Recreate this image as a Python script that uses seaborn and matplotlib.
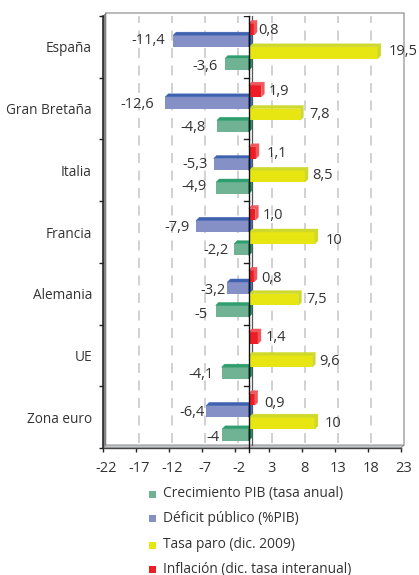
import numpy as np
import pandas as pd
import matplotlib
import matplotlib.pyplot as plt
from matplotlib.patches import Polygon, Rectangle
from matplotlib.transforms import ScaledTranslation
import seaborn as sns

matplotlib.use("Agg")

paises = ["España", "Gran Bretaña", "Italia", "Francia", "Alemania", "UE", "Zona euro"]
inflacion = [0.8, 1.9, 1.1, 1.0, 0.8, 1.4, 0.9]
deficit = [-11.4, -12.6, -5.3, -7.9, -3.2, np.nan, -6.4]
paro = [19.5, 7.8, 8.5, 10, 7.5, 9.6, 10]
crecimiento = [-3.6, -4.8, -4.9, -2.2, -5, -4.1, -4]
x_ticks = list(range(-22, 24, 5))

series = ["Inflación (dic. tasa interanual)", "Déficit público (%PIB)",
          "Tasa paro (dic. 2009)", "Crecimiento PIB (tasa anual)"]
valores = [inflacion, deficit, paro, crecimiento]
legend_order = [3, 1, 2, 0]

face = ["#ee1c25", "#8490c6", "#e8e612", "#6fb394"]
top = ["#f0575c", "#3f62b0", "#ced92b", "#2f9e6f"]
side = ["#f0575c", "#2c55a8", "#ced92b", "#0b7d55"]

# label placement in the original is uneven: gap from the bar end and shift from bar centre, px
label_gap = [[1, 4, 7.7, 4, 4.7, 4.7, 7],
             [8, 11, 6, 6.4, 1.5, 0, 2],
             [8, 6, 4.7, 8, 4.6, 4, 6.3],
             [7, 11, 10, 5, 7.6, 7.5, 3]]
label_shift = [[0, 0, 0, 0, 1, -1, 2.5],
               [-1, 1, -1, 0, 2, 0, 0],
               [-2, -1, -2, 2, -1, -1, -1],
               [1.5, 0, -2, 0, 2, 0, 2]]

W, H = 419, 575
plt.rcParams["font.family"] = ["Open Sans", "DejaVu Sans"]
text_color = "#333333"

df = pd.DataFrame({
    "pais": paises * 4,
    "serie": [s for s in series for _ in paises],
    "valor": [v for vals in valores for v in vals],
})

fig = plt.figure(figsize=(W / 100, H / 100), dpi=100)
ax = fig.add_axes([103 / W, 1 - 448 / H, 298 / W, 432 / H])
ax.patch.set_visible(False)

sns.barplot(data=df, y="pais", x="valor", hue="serie", hue_order=series, order=paises,
            palette=face, saturation=1, width=0.76, gap=0, legend=False, ax=ax, orient="h",
            err_kws={"linewidth": 0})

ax.set_xlim(-22, 23)
ax.set_ylim(6.5, -0.5)
ax.set_xlabel("")
ax.set_ylabel("")

# depth of the fake 3d, 3px in data units
px_x = 45 / 298
px_y = 7 / 432
dx = 3 * px_x
dy = 3 * px_y

# back wall, left wall and floor
ax.plot([-22 + dx, 23 + dx, 23 + dx], [-0.5 - dy, -0.5 - dy, 6.5 - dy], color="#a6a6a6", lw=1.1,
        clip_on=False, zorder=1)
ax.add_patch(Polygon([(-22, -0.5), (-22 + dx, -0.5 - dy), (-22 + dx, 6.5 - dy), (-22, 6.5)],
                     fc="#858585", ec="#777777", lw=0.4, clip_on=False, zorder=1))
ax.add_patch(Polygon([(-22, 6.5), (-22 + dx, 6.5 - dy), (23 + dx, 6.5 - dy), (23, 6.5)],
                     fc="#c4c6cc", ec="#8d8d8d", lw=0.7, clip_on=False, zorder=1))

for t in x_ticks[1:-1]:
    ax.plot([t + dx, t + dx], [-0.5 - dy, 6.5 - dy], color="#c9c9c9", lw=1.2,
            dashes=(6, 4.5), zorder=1)

# zero plane: back line, front line and its small ticks
ax.plot([dx, dx], [-0.5 - dy, 6.5 - dy], color="#555555", lw=0.9, zorder=1.5)
ax.plot([0, 0], [-0.5, 6.5 + 4 * px_y], color="#111111", lw=1.0, clip_on=False, zorder=20)
for b in np.arange(-0.5, 7):
    ax.plot([-5 * px_x, 0], [b, b], color="#222222", lw=1.0, zorder=2)

# fake 3d on each seaborn bar
for i, container in enumerate(ax.containers):
    z = 10 - i
    for bar in container:
        w = bar.get_width()
        if np.isnan(w) or w == 0:
            continue
        y0 = bar.get_y()
        y1 = y0 + bar.get_height()
        bar.set_zorder(z)
        bar.set_linewidth(0)
        ax.add_patch(Polygon([(0, y0), (dx, y0 - dy), (w + dx, y0 - dy), (w, y0)],
                             fc=top[i], ec=top[i], lw=0.3, zorder=z, clip_on=False))
        tip = max(w, 0)
        ax.add_patch(Polygon([(tip, y0), (tip + dx, y0 - dy), (tip + dx, y1 - dy), (tip, y1)],
                             fc=side[i], ec=side[i], lw=0.3, zorder=z, clip_on=False))
        if i == 0:
            label = f"{w:.1f}"
        else:
            label = f"{w:g}"
        label = label.replace(".", ",")
        yc = y0 + bar.get_height() / 2
        row = int(round(yc))
        gap = label_gap[i][row] * px_x
        yt = yc + (label_shift[i][row] + 1) * px_y
        if w > 0:
            ax.text(w + dx + gap, yt, label, ha="left", va="center", fontsize=10.5,
                    color=text_color, zorder=30)
        else:
            ax.text(w - gap, yt, label, ha="right", va="center", fontsize=10.5,
                    color=text_color, zorder=30)

sns.despine(ax=ax, top=True, right=True, bottom=True)
ax.spines["left"].set_color("#222222")
ax.spines["left"].set_linewidth(1.1)
ax.plot([-22, 23], [6.5, 6.5], color="#444444", lw=1.0, clip_on=False, zorder=2)

ax.set_xticks(x_ticks)
ax.set_xticklabels([str(t) for t in x_ticks], fontsize=10.5, color=text_color)
ax.tick_params(axis="x", length=3, width=1, color="#222222", pad=6)
shift = ScaledTranslation(3 / 100, 0, fig.dpi_scale_trans)
for lab in ax.get_xticklabels():
    lab.set_transform(lab.get_transform() + shift)
ax.set_yticks(range(len(paises)))
ax.set_yticklabels(paises, fontsize=9.8, color=text_color)
ax.set_yticks(np.arange(-0.5, 7), minor=True)
ax.tick_params(axis="y", which="major", length=0, pad=8)
ax.tick_params(axis="y", which="minor", length=3, width=1, color="#222222")

# legend is placed by hand, the rows are not evenly spaced
legend_y = [494, 518, 545, 569]
for row, idx in zip(legend_y, legend_order):
    fig.add_artist(Rectangle((149 / W, 1 - (row + 3.5) / H), 7 / W, 7 / H, transform=fig.transFigure,
                             fc=face[idx], lw=0))
    fig.text(163 / W, 1 - row / H, series[idx], ha="left", va="center", fontsize=9.9, color=text_color)

fig.savefig("out.png", dpi=100)
